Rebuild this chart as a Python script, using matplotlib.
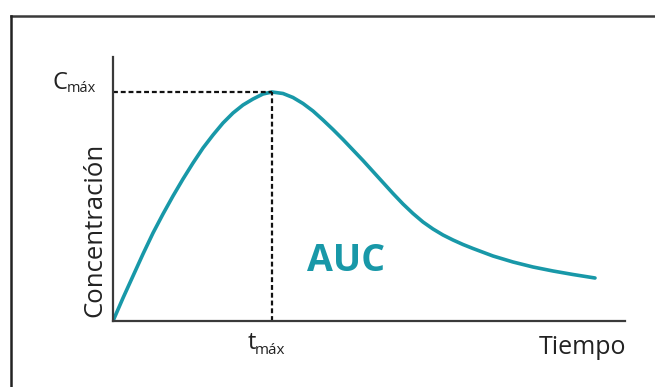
import matplotlib
matplotlib.use("Agg")
import matplotlib.pyplot as plt
from matplotlib.lines import Line2D

# Data (arbitrary units)
tiempo = [0, 10, 20, 30, 40, 50, 60, 70, 80, 90, 100, 110, 120, 130, 140, 150, 159,
          170, 180, 190, 200, 210, 220, 230, 240, 250, 260, 270, 280, 290, 300,
          310, 320, 330, 340, 350, 360, 380, 400, 420, 440, 460, 482]
concentracion = [0, 23, 45, 67, 88, 107, 125, 142, 158, 173, 186, 198, 208, 216,
                 222, 227, 229, 227.5, 223.5, 217.5, 210, 201, 191.5, 181.5, 171,
                 160.5, 149.5, 138.5, 127.5, 117, 107.5, 99, 92, 86, 81, 76.5, 72.5,
                 65, 59, 54, 50, 46.5, 43]
t_max = 159
c_max = 229

W, H = 655, 387
fig = plt.figure(figsize=(W / 100, H / 100), dpi=100)
fig.patch.set_facecolor("white")

ax = fig.add_axes([113 / W, (H - 321) / H, (625 - 113) / W, (321 - 57) / H])
ax.set_xlim(0, 512)
ax.set_ylim(0, 264)
ax.set_facecolor("none")
for s in ["top", "right"]:
    ax.spines[s].set_visible(False)
for s in ["left", "bottom"]:
    ax.spines[s].set_color("#3a3a3a")
    ax.spines[s].set_linewidth(1.6)
ax.set_xticks([])
ax.set_yticks([])

teal = "#1898a8"
ax.plot(tiempo, concentracion, color=teal, lw=2.6, solid_capstyle="round",
        solid_joinstyle="round")
ax.plot([0, t_max], [c_max, c_max], color="#111111", lw=1.6, ls=(0, (2.2, 1.3)))
ax.plot([t_max, t_max], [0, c_max], color="#111111", lw=1.6, ls=(0, (2.2, 1.3)))

font = "Open Sans"

def fx(px):
    return px / W

def fy(py):
    return 1 - py / H

fig.text(fx(346), fy(261), "AUC", color=teal, fontsize=27, fontweight="bold",
         family=font, ha="center", va="center")
fig.text(fx(67), fy(83), "C", fontsize=17, family=font, ha="right", va="center",
         color="#222222")
fig.text(fx(67), fy(88), "máx", fontsize=10.5, family=font, ha="left", va="center",
         color="#222222")
fig.text(fx(256), fy(343), "t", fontsize=17, family=font, ha="right", va="center",
         color="#222222")
fig.text(fx(255), fy(350), "máx", fontsize=11, family=font, ha="left", va="center",
         color="#222222")
fig.text(fx(626), fy(347), "Tiempo", fontsize=18, family=font, ha="right",
         va="center", color="#222222")
fig.text(fx(95), fy(230), "Concentración", fontsize=18.5, family=font, ha="center",
         va="center", rotation=90, color="#222222")

# outer frame (top and left)
fig.add_artist(Line2D([fx(11), 1.0], [fy(16), fy(16)], color="#3a3a3a", lw=1.8))
fig.add_artist(Line2D([fx(11), fx(11)], [fy(16), 0.0], color="#222222", lw=1.8))

fig.savefig("out.png", dpi=100)
